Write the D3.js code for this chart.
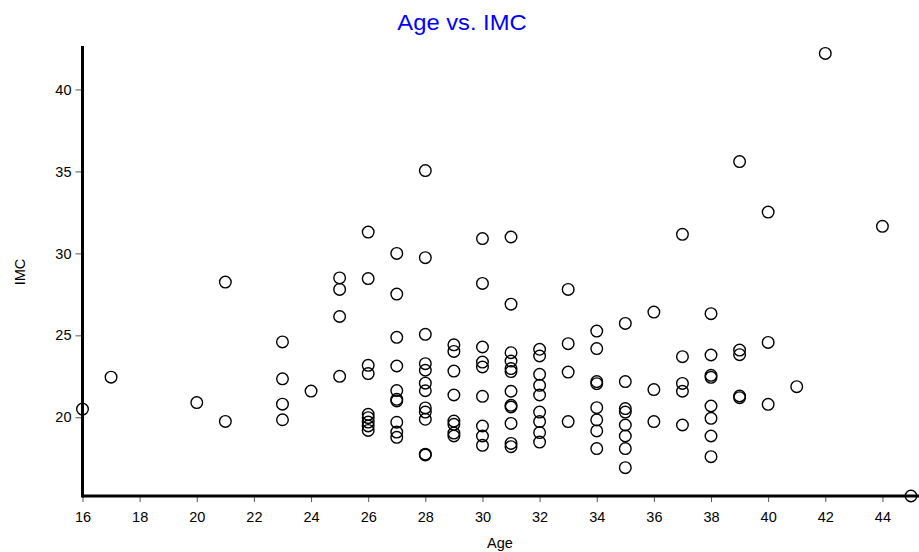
<!DOCTYPE html>
<html>
<head>
<meta charset="utf-8">
<script src="https://cdn.jsdelivr.net/npm/d3@7"></script>
<style>
  body { margin: 0; background: #fff; }
  text { font-family: "Liberation Sans", Arial, sans-serif; }
</style>
</head>
<body>
<svg width="919" height="552"></svg>
<script>
// ages present in the sample, with the IMC values read for each age
var ages = [16, 17, 20, 21, 23, 24, 25, 26, 27, 28, 29, 30, 31, 32, 33, 34, 35, 36, 37, 38, 39, 40, 41, 42, 44, 45];
var imcByAge = [
    [20.5],
    [22.45],
    [20.9],
    [28.25, 19.75],
    [24.6, 22.35, 20.8, 19.85],
    [21.6],
    [28.5, 27.8, 26.15, 22.5],
    [31.3, 28.46, 23.17, 22.67, 20.18, 19.98, 19.71, 19.47, 19.2],
    [30.0, 27.52, 24.88, 23.13, 21.63, 21.1, 21.0, 19.7, 19.1, 18.78],
    [35.05, 29.74, 25.06, 23.27, 22.87, 22.08, 21.62, 20.57, 20.32, 19.88, 17.75, 17.7],
    [24.42, 24.02, 22.82, 21.36, 19.77, 19.57, 19.04, 18.86],
    [30.9, 28.17, 24.29, 23.37, 23.07, 21.28, 19.47, 18.86, 18.29],
    [31.0, 26.9, 23.94, 23.43, 22.97, 22.79, 21.59, 20.73, 20.63, 19.63, 18.41, 18.21],
    [24.15, 23.74, 22.62, 21.95, 21.36, 20.32, 19.74, 19.07, 18.49],
    [27.8, 24.49, 22.76, 19.74],
    [25.26, 24.19, 22.18, 22.05, 20.59, 19.84, 19.17, 18.09],
    [25.73, 22.18, 20.53, 20.32, 19.53, 18.86, 18.09, 16.93],
    [26.42, 21.69, 19.74],
    [31.16, 23.7, 22.07, 21.59, 19.53],
    [26.32, 23.8, 22.56, 22.44, 20.69, 19.94, 18.86, 17.6],
    [35.6, 24.1, 23.82, 21.3, 21.2],
    [32.52, 24.57, 20.79],
    [21.87],
    [42.2],
    [31.65],
    [15.2]
];
var xTicks = [16, 18, 20, 22, 24, 26, 28, 30, 32, 34, 36, 38, 40, 42, 44];
var yTicks = [20, 25, 30, 35, 40];

var points = [];
ages.forEach(function (a, i) {
    imcByAge[i].forEach(function (v) { points.push({ age: a, imc: v }); });
});

var svg = d3.select("svg"),
    width = +svg.attr("width"),
    height = +svg.attr("height");

var x = d3.scaleLinear().domain([16, 45]).range([82.5, 911]);
var y = d3.scaleLinear().domain([15.2, 42.65]).range([496, 46]);

// title
svg.append("text")
    .attr("x", 462)
    .attr("y", 30)
    .attr("text-anchor", "middle")
    .attr("font-size", 22)
    .attr("fill", "#0000ff")
    .attr("transform", "translate(462,0) scale(1.08,1) translate(-462,0)")
    .text("Age vs. IMC");

// x axis
var xAxis = svg.append("g")
    .attr("transform", "translate(0," + y.range()[0] + ")")
    .call(d3.axisBottom(x).tickValues(xTicks).tickSize(6).tickPadding(10).tickFormat(d3.format("d")));
xAxis.select(".domain").remove();
xAxis.selectAll(".tick line").attr("stroke", "#555").attr("stroke-width", 1);
xAxis.selectAll(".tick text").attr("font-size", 14.5).attr("fill", "#000")
    .attr("font-family", "'Liberation Sans', Arial, sans-serif");

// y axis
var yAxis = svg.append("g")
    .attr("transform", "translate(" + x(16) + ",0)")
    .call(d3.axisLeft(y).tickValues(yTicks).tickSize(7).tickPadding(4));
yAxis.select(".domain").remove();
yAxis.selectAll(".tick line").attr("stroke", "#555").attr("stroke-width", 1);
yAxis.selectAll(".tick text").attr("font-size", 14.5).attr("fill", "#000")
    .attr("font-family", "'Liberation Sans', Arial, sans-serif");

// heavy axis lines
svg.append("line")
    .attr("x1", x(16)).attr("x2", width)
    .attr("y1", y.range()[0]).attr("y2", y.range()[0])
    .attr("stroke", "#000").attr("stroke-width", 3);
svg.append("line")
    .attr("x1", x(16)).attr("x2", x(16))
    .attr("y1", y.range()[1]).attr("y2", y.range()[0] + 1.5)
    .attr("stroke", "#000").attr("stroke-width", 3);

// axis titles
svg.append("text")
    .attr("x", 500)
    .attr("y", 548)
    .attr("text-anchor", "middle")
    .attr("font-size", 14.5)
    .text("Age");

svg.append("text")
    .attr("transform", "translate(25,272) rotate(-90)")
    .attr("text-anchor", "middle")
    .attr("font-size", 14.5)
    .text("IMC");

// points
svg.append("g")
    .attr("class", "points")
    .selectAll("circle")
    .data(points)
    .enter()
    .append("circle")
    .attr("cx", function (d) { return x(d.age); })
    .attr("cy", function (d) { return y(d.imc); })
    .attr("r", 5.8)
    .attr("fill", "none")
    .attr("stroke", "#000")
    .attr("stroke-width", 1.4);
</script>
</body>
</html>
